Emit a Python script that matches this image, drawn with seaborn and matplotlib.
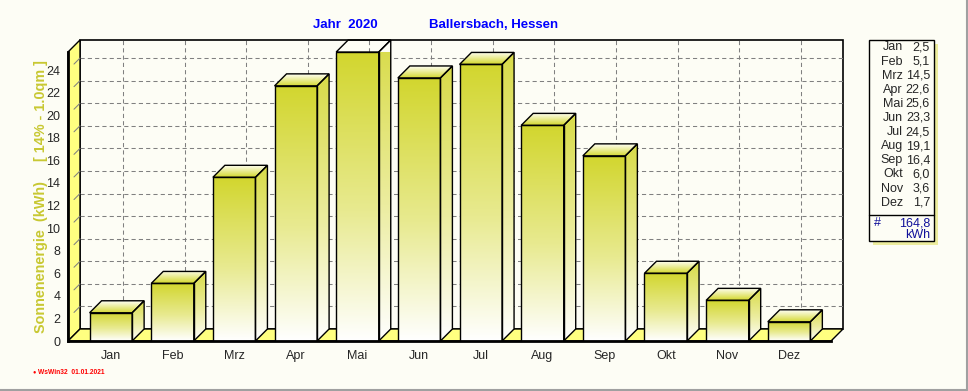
import numpy as np
import pandas as pd
import matplotlib
matplotlib.use("Agg")
import matplotlib.pyplot as plt
import seaborn as sns
from matplotlib.patches import Polygon, Rectangle
from matplotlib.lines import Line2D
from matplotlib.colors import LinearSegmentedColormap
from matplotlib.ticker import MultipleLocator

# data
months = ['Jan', 'Feb', 'Mrz', 'Apr', 'Mai', 'Jun', 'Jul', 'Aug', 'Sep', 'Okt', 'Nov', 'Dez']
kwh = [2.5, 5.1, 14.5, 22.6, 25.6, 23.3, 24.5, 19.1, 16.4, 6.0, 3.6, 1.7]
total_kwh = 164.8
yticks = list(range(0, 25, 2))
title_year = "Jahr  2020"
title_place = "Ballersbach, Hessen"
ylabel = "Sonnenenergie  (kWh)     [ 14% - 1.0qm ]"
footer = "WsWin32  01.01.2021"

W, H = 968, 391
BG = '#FDFDF5'
WALL = '#FFFF80'
GRID = '#808080'


def fx(px):
    return px / W


def fy(py):
    return 1 - py / H


sns.set_style("white")
plt.rcParams['font.family'] = ['Liberation Sans', 'DejaVu Sans']

df = pd.DataFrame({'Monat': months, 'kWh': kwh})

fig = plt.figure(figsize=(W / 100, H / 100), dpi=100, facecolor=BG)
AX_L, AX_T, AX_W, AX_H = 68, 52, 763, 289
ax = fig.add_axes([fx(AX_L), fy(AX_T + AX_H), AX_W / W, AX_H / H])
ax.set_facecolor('none')

sns.barplot(data=df, x='Monat', y='kWh', order=months, width=0.69,
            color='#D4D830', edgecolor='black', linewidth=1.0, ax=ax)
bars = list(ax.patches)

X0, X1 = -0.695, 11.68
Y0, Y1 = 0, 25.6
DX = 12 * (X1 - X0) / AX_W
DY = 12 * (Y1 - Y0) / AX_H

# back wall + grid
ax.add_patch(Rectangle((X0 + DX, DY), X1 - X0, Y1 - Y0, fc=BG, ec='black',
                       lw=1.2, zorder=0.5, clip_on=False))
for y in yticks[1:]:
    ax.plot([X0 + DX, X1 + DX], [y + DY] * 2, ls=(0, (4, 3)), color=GRID,
            lw=0.75, zorder=0.6, clip_on=False)
    ax.plot([X0 + DX * 0.5, X0 + DX], [y + DY * 0.5, y + DY], color=GRID,
            lw=0.75, zorder=0.8, clip_on=False)
for i in range(len(months)):
    ax.plot([i + DX] * 2, [DY, Y1 + DY], ls=(0, (4, 3)), color=GRID,
            lw=0.75, zorder=0.6, clip_on=False)

# left wall and floor
ax.add_patch(Polygon([(X0, Y0), (X0, Y1), (X0 + DX, Y1 + DY), (X0 + DX, DY)],
                     closed=True, fc=WALL, ec='black', lw=1.0, zorder=0.7, clip_on=False))
ax.add_patch(Polygon([(X0, Y0), (X1, Y0), (X1 + DX, DY), (X0 + DX, DY)],
                     closed=True, fc=WALL, ec='black', lw=1.0, zorder=0.7, clip_on=False))

front_cmap = LinearSegmentedColormap.from_list(
    'front', [(0, '#FFFFFF'), (0.45, '#E8EA90'), (1, '#D2D62E')])
side_cmap = LinearSegmentedColormap.from_list(
    'side', [(0, '#FFFFFF'), (0.45, '#ECEDA0'), (1, '#D8DB48')])
top_cmap = LinearSegmentedColormap.from_list('top', ['#FFFFF4', '#D4D830'])
grad = np.linspace(1, 0, 256).reshape(-1, 1)

for p in bars:
    x, w, h = p.get_x(), p.get_width(), p.get_height()
    p.set_facecolor('none')
    p.set_zorder(3)
    ax.imshow(grad, extent=(x, x + w, 0, h), cmap=front_cmap, aspect='auto',
              interpolation='bilinear', zorder=2)

    side = Polygon([(x + w, 0), (x + w, h), (x + w + DX, h + DY), (x + w + DX, DY)],
                   closed=True, fc='none', ec='black', lw=1.0, zorder=3,
                   transform=ax.transData, clip_on=False)
    ax.imshow(grad, extent=(x + w, x + w + DX, 0, h + DY), cmap=side_cmap,
              aspect='auto', interpolation='bilinear', zorder=2, clip_path=side)
    ax.add_patch(side)

    top = Polygon([(x, h), (x + w, h), (x + w + DX, h + DY), (x + DX, h + DY)],
                  closed=True, fc='none', ec='black', lw=1.0, zorder=3,
                  transform=ax.transData, clip_on=False)
    ax.imshow(grad[::-1], extent=(x, x + w + DX, h, h + DY), cmap=top_cmap,
              aspect='auto', interpolation='bilinear', zorder=2, clip_path=top)
    ax.add_patch(top)

ax.set_xlim(X0, X1)
ax.set_ylim(Y0, Y1)
ax.set_xlabel('')
ax.set_ylabel('')
ax.set_xticks(range(len(months)))
ax.set_xticklabels(months)
ax.set_yticks(yticks)
ax.xaxis.set_minor_locator(MultipleLocator(0.25))
ax.yaxis.set_minor_locator(MultipleLocator(0.5))
ax.tick_params(axis='both', which='major', direction='out', length=3.6, width=0.8,
               labelsize=9, color='black', pad=2)
ax.tick_params(axis='both', which='minor', direction='out', length=2, width=0.7,
               color='#404040')
ax.tick_params(axis='x', which='major', pad=3)
for s in ['top', 'right']:
    ax.spines[s].set_visible(False)
for s in ['left', 'bottom']:
    ax.spines[s].set_visible(True)
    ax.spines[s].set_linewidth(2)
    ax.spines[s].set_color('black')
    ax.spines[s].set_zorder(4)

# titles and axis label
fig.text(fx(345), fy(25), title_year, color='#0000FF', fontsize=9.5,
         fontweight='bold', ha='center', va='center')
fig.text(fx(494), fy(25), title_place, color='#0000FF', fontsize=9.5,
         fontweight='bold', ha='center', va='center')
fig.text(fx(41), fy(197), ylabel, color='#C8C832', fontsize=10.4, fontweight='bold',
         rotation=90, ha='center', va='center')

# value box on the right
fig.add_artist(Rectangle((fx(873), fy(245)), 65 / W, 201 / H, transform=fig.transFigure,
                         fc='#EDED9E', ec='none', zorder=1))
fig.add_artist(Rectangle((fx(869), fy(241)), 65 / W, 201 / H, transform=fig.transFigure,
                         fc=BG, ec='black', lw=1.0, zorder=2))
fig.add_artist(Line2D([fx(869), fx(934)], [fy(215)] * 2, transform=fig.transFigure,
                      color='black', lw=1.0, zorder=3))
for i, (m, v) in enumerate(zip(months, kwh)):
    yy = fy(47.5 + i * 14.1)
    fig.text(fx(903), yy, m, fontsize=9, ha='right', va='center', zorder=4)
    fig.text(fx(930), yy, f"{v:.1f}".replace('.', ','), fontsize=9, ha='right',
             va='center', zorder=4)
fig.text(fx(877), fy(223), '#', fontsize=9, color='#10109A', ha='center', va='center')
fig.text(fx(930), fy(223), f"{total_kwh:.1f}".replace('.', ','), fontsize=9,
         color='#10109A', ha='right', va='center')
fig.text(fx(930), fy(235), 'kWh', fontsize=9, color='#10109A', ha='right', va='center')

# footer and frame
fig.text(fx(34), fy(372), '\u25CF', color='red', fontsize=4, ha='center', va='center')
fig.text(fx(38), fy(372), footer, color='red', fontsize=4.8, fontweight='bold',
         ha='left', va='center')
fig.add_artist(Line2D([0, fx(967)], [fy(390)] * 2, transform=fig.transFigure,
                      color='#A0A0A0', lw=1.5))
fig.add_artist(Line2D([fx(966.5)] * 2, [fy(390), 1], transform=fig.transFigure,
                      color='#A0A0A0', lw=1.5))

fig.savefig('out.png', dpi=100, facecolor=BG)
